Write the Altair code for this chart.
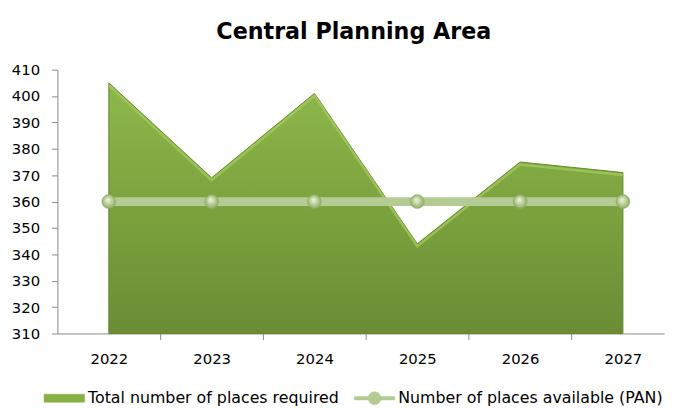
import altair as alt
import pandas as pd

years = [2022, 2023, 2024, 2025, 2026, 2027]
required = [405, 369, 401, 344, 375, 371]
available = [360, 360, 360, 360, 360, 360]
series_names = ["Total number of places required", "Number of places available (PAN)"]
y_ticks = [310, 320, 330, 340, 350, 360, 370, 380, 390, 400, 410]
title_text = "Central Planning Area"

df = pd.DataFrame({"year": years, "required": required, "available": available})

x_enc = alt.X(
    "year:Q",
    title=None,
    scale=alt.Scale(domain=[2021.5, 2027.4], nice=False, zero=False),
    axis=alt.Axis(values=years, format="d", tickOffset=52, labelOffset=-52,
                  labelFlush=False, labelOverlap=False, tickSize=6, labelPadding=12),
)
y_scale = alt.Scale(domain=[310, 410], nice=False, zero=False)


def y_axis():
    return alt.Axis(values=y_ticks, tickSize=6, labelPadding=12, format="d",
                    labelOverlap=False, labelFlush=False)


area_fill = alt.LinearGradient(
    gradient="linear",
    stops=[alt.GradientStop(color="#8EB84B", offset=0),
           alt.GradientStop(color="#7CA23E", offset=0.5),
           alt.GradientStop(color="#6A8C34", offset=1)],
    x1=0, x2=0, y1=0, y2=1,
)

area = alt.Chart(df).mark_area(fill=area_fill, stroke="#66882F", strokeWidth=1).encode(
    x=x_enc,
    y=alt.Y("required:Q", title=None, scale=y_scale, axis=y_axis()),
    y2=alt.datum(310),
)

bevel = alt.Chart(df).mark_line(color="#A3CB5E", strokeWidth=2.5, opacity=0.75, yOffset=2.5).encode(
    x=x_enc,
    y=alt.Y("required:Q", title=None, scale=y_scale, axis=y_axis()),
)

shape_sig = ("datum.index === 0 ? 'M-1,-0.2H1V0.2H-1Z' : "
             "'M-1,-0.085H1V0.085H-1Z M0.32,0A0.32,0.32 0 1,1 -0.32,0A0.32,0.32 0 1,1 0.32,0Z'")
fill_sig = "datum.index === 0 ? '#86AF44' : '#B4CC93'"

line = alt.Chart(df).transform_calculate(series=f"'{series_names[1]}'").mark_line(strokeWidth=9).encode(
    x=x_enc,
    y=alt.Y("available:Q", title=None, scale=y_scale, axis=y_axis()),
    color=alt.Color(
        "series:N",
        scale=alt.Scale(domain=series_names, range=["#86AF44", "#B4CC93"]),
        legend=alt.Legend(
            title=None, orient="none", direction="horizontal",
            legendX=-14, legendY=311.5, padding=0,
            symbolType=alt.ExprRef(expr=shape_sig),
            symbolFillColor=alt.ExprRef(expr=fill_sig),
            symbolStrokeColor=alt.ExprRef(expr=fill_sig),
            symbolSize=1681, symbolStrokeWidth=0.5, symbolOpacity=1,
            labelOffset=3, columnPadding=14,
            labelFont="DejaVu Sans", labelFontSize=16, labelColor="black", labelLimit=400,
        ),
    ),
)

marker_fill = alt.RadialGradient(
    gradient="radial",
    stops=[alt.GradientStop(color="#F0F6E6", offset=0),
           alt.GradientStop(color="#C0D6A0", offset=0.45),
           alt.GradientStop(color="#88A45E", offset=1)],
    x1=0.42, y1=0.35, r1=0, x2=0.5, y2=0.5, r2=0.55,
)

points = alt.Chart(df).mark_point(filled=True, shape="circle", size=200, fill=marker_fill,
                                  opacity=1, stroke="#8FA86A", strokeWidth=0.5).encode(
    x=x_enc,
    y=alt.Y("available:Q", title=None, scale=y_scale, axis=y_axis()),
)

chart = alt.layer(area, bevel, line, points).properties(
    width=614,
    height=267,
    autosize=alt.AutoSizeParams(type="none"),
    padding={"left": 50, "top": 60, "right": 5, "bottom": 74},
    title=alt.TitleParams(title_text, font="DejaVu Sans", fontSize=22.5, fontWeight="bold",
                          color="black", anchor="middle", frame="group", offset=2,
                          baseline="alphabetic", dx=-7),
).configure_view(stroke=None).configure_axis(
    domainColor="#888888", tickColor="#888888", grid=False, labelOverlap=False,
    labelFont="DejaVu Sans", labelFontSize=15, labelColor="black",
)

chart.save("out.html", embed_options={"renderer": "svg", "actions": False})
